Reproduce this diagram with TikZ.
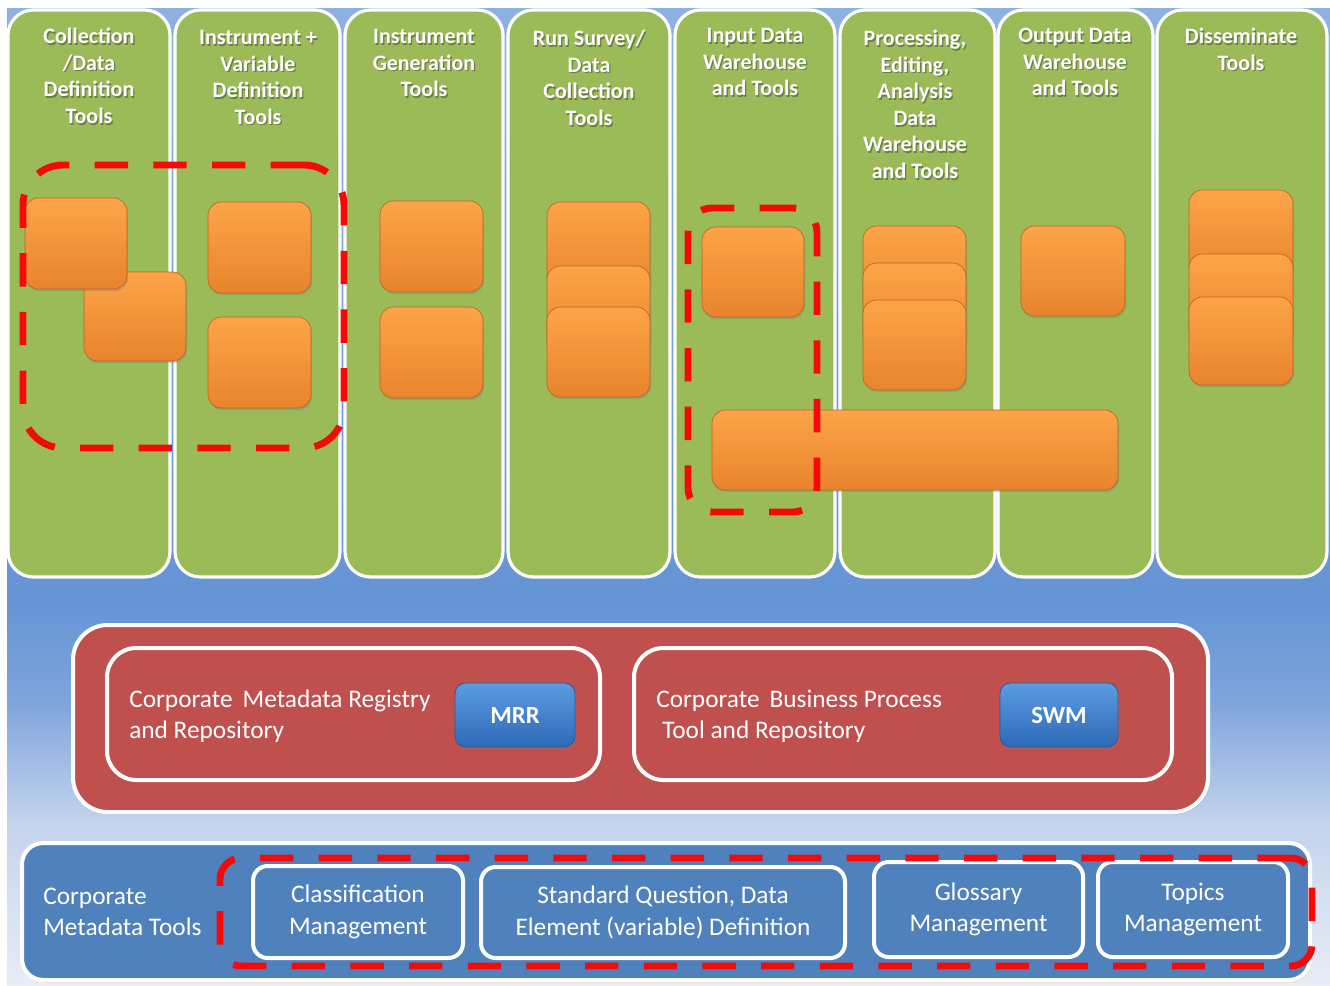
\documentclass[tikz,border=0pt]{standalone}
\usepackage{fontspec}
\setmainfont{Carlito}
\usetikzlibrary{shadows}
\definecolor{colgreen}{HTML}{9BBB59}
\definecolor{midred}{HTML}{C0504D}
\definecolor{botblue}{HTML}{4F81BD}
\definecolor{dashred}{HTML}{F50A0A}
\definecolor{orgtop}{HTML}{FDA448}
\definecolor{orgbot}{HTML}{E8842D}
\definecolor{orgedge}{HTML}{B8661F}
\definecolor{btntop}{HTML}{5C9CE2}
\definecolor{btnbot}{HTML}{2E69B6}
\definecolor{btnedge}{HTML}{2A5A98}
\definecolor{bgA}{HTML}{8DB2E2}
\definecolor{bgB}{HTML}{6594D5}
\definecolor{bgC}{HTML}{7EA4DC}
\definecolor{bgD}{HTML}{C3D3EC}
\definecolor{bgE}{HTML}{E8EDF6}
\newcommand\pbox[7]{\node[#2, minimum width={(#5-#3)*0.75pt}, minimum height={(#6-#4)*0.75pt}] (#1) at ({(#3+#5)/2},{(#4+#6)/2}) {#7};}
\newcommand\colhead[4]{%
  \node[hdsh] (#1s) at ({#2+1.3},{#3+1.7}) {#4};
  \node[hd] (#1) at (#2,#3) {#4};}
\begin{document}
\begin{tikzpicture}[x=0.75pt,y=-0.75pt,
  base/.style={rectangle, inner sep=0pt, outer sep=0pt},
  colbox/.style={base, draw=white, line width=2.4pt, fill=colgreen, rounded corners=19pt,
     drop shadow={opacity=0.25, shadow xshift=0.6pt, shadow yshift=-1.5pt}},
  obox/.style={base, rounded corners=10pt, top color=orgtop, bottom color=orgbot, draw=orgedge, line width=0.5pt,
     drop shadow={opacity=0.35, shadow xshift=0.8pt, shadow yshift=-1.6pt}},
  dashbox/.style={base, draw=dashred, line width=5.2pt, dash pattern=on 25pt off 19pt},
  hd/.style={anchor=north, align=center, text=white, inner sep=0pt, font=\fontsize{16.5}{19.9}\selectfont\bfseries},
  hdsh/.style={hd, text=black!80, text opacity=0.45},
  redbox/.style={base, fill=midred, draw=white, line width=3pt},
  bluebox/.style={base, fill=botblue, draw=white, line width=3pt},
  btn/.style={base, rounded corners=8pt, top color=btntop, bottom color=btnbot, draw=btnedge, line width=0.6pt,
     text=white, font=\fontsize{18.5}{22}\selectfont\bfseries,
     drop shadow={opacity=0.35, shadow xshift=0.8pt, shadow yshift=-1.6pt}},
  bodytxt/.style={inner sep=0pt, text=white, font=\fontsize{19}{23.5}\selectfont}
]
\useasboundingbox (0,0) rectangle (1330,985);
\fill[white] (0,0) rectangle (1330,985);
% background
\shade[top color=bgA, bottom color=bgB] (7,8) rectangle (1330,601);
\shade[top color=bgB, bottom color=bgC] (7,600) rectangle (1330,701);
\shade[top color=bgC, bottom color=bgD] (7,700) rectangle (1330,821);
\shade[top color=bgD, bottom color=bgE] (7,820) rectangle (1330,985);
% columns
\pbox{col1}{colbox}{8}{10}{170}{577}{}
\pbox{col2}{colbox}{175}{10}{340}{577}{}
\pbox{col3}{colbox}{345}{10}{503}{577}{}
\pbox{col4}{colbox}{508}{10}{670}{577}{}
\pbox{col5}{colbox}{675}{10}{835}{577}{}
\pbox{col6}{colbox}{840}{10}{995}{577}{}
\pbox{col7}{colbox}{998}{10}{1153}{577}{}
\pbox{col8}{colbox}{1157}{10}{1327}{577}{}
% headers
\colhead{h1}{89}{28}{Collection\\/Data\\Definition\\Tools}
\colhead{h2}{258}{30}{Instrument +\\Variable\\Definition\\Tools}
\colhead{h3}{424}{29}{Instrument\\Generation\\Tools}
\colhead{h4}{589}{30}{Run Survey/\\Data\\Collection\\Tools}
\colhead{h5}{755}{28}{Input Data\\Warehouse\\and Tools}
\colhead{h6}{915}{30}{Processing,\\Editing,\\Analysis\\Data\\Warehouse\\and Tools}
\colhead{h7}{1075}{28}{Output Data\\Warehouse\\and Tools}
\colhead{h8}{1241}{28}{Disseminate\\Tools}
% orange boxes
\pbox{c1b}{obox}{84}{272}{186}{361}{}
\pbox{c1a}{obox}{25}{198}{127}{289}{}
\pbox{c2a}{obox}{208}{202}{311}{293}{}
\pbox{c2b}{obox}{208}{317}{311}{408}{}
\pbox{c3a}{obox}{380}{201}{483}{292}{}
\pbox{c3b}{obox}{380}{307}{483}{398}{}
\pbox{c4a}{obox}{547}{202}{650}{292}{}
\pbox{c4b}{obox}{547}{266}{650}{356}{}
\pbox{c4c}{obox}{547}{307}{650}{397}{}
\pbox{c5a}{obox}{702}{227}{804}{317}{}
\pbox{c6a}{obox}{863}{226}{966}{316}{}
\pbox{c6b}{obox}{863}{263}{966}{353}{}
\pbox{c6c}{obox}{863}{300}{966}{390}{}
\pbox{c7a}{obox}{1021}{226}{1125}{316}{}
\pbox{c8a}{obox}{1189}{190}{1293}{280}{}
\pbox{c8b}{obox}{1189}{254}{1293}{344}{}
\pbox{c8c}{obox}{1189}{297}{1293}{385}{}
\pbox{long}{obox}{712}{410}{1118}{490}{}
% dashed groups (top)
\pbox{d1}{dashbox, rounded corners=30pt}{23}{165}{344}{448}{}
\pbox{d2}{dashbox, rounded corners=18pt}{688}{208}{817}{512}{}
% middle band
\pbox{mid}{redbox, rounded corners=26pt, drop shadow={opacity=0.3, shadow xshift=0.8pt, shadow yshift=-1.8pt}}{73}{625}{1208}{812}{}
\pbox{mrrbox}{redbox, rounded corners=22pt}{107}{648}{600}{780}{}
\pbox{swmbox}{redbox, rounded corners=22pt}{634}{648}{1172}{780}{}
\node[bodytxt, anchor=west, align=left] (mrrtxt) at (129,716) {Corporate\, Metadata Registry\\and Repository};
\node[bodytxt, anchor=west, align=left] (swmtxt) at (656,716) {Corporate\, Business Process\\\hspace*{4.5pt}Tool and Repository};
\pbox{mrr}{btn}{455}{683}{575}{747}{MRR}
\pbox{swm}{btn}{1000}{683}{1118}{747}{SWM}
% bottom band
\pbox{bot}{bluebox, rounded corners=16pt, drop shadow={opacity=0.25, shadow xshift=0.8pt, shadow yshift=-1.8pt}}{22}{843}{1310}{980}{}
\node[bodytxt, anchor=west, align=left] (cmt) at (43,912) {Corporate\\Metadata Tools};
\pbox{cls}{bluebox, rounded corners=11pt, align=center, bodytxt}{253}{866}{463}{958}{Classification\\Management}
\pbox{sqd}{bluebox, rounded corners=11pt, align=center, bodytxt}{481}{867}{845}{958}{Standard Question, Data\\Element (variable) Definition}
\pbox{glo}{bluebox, rounded corners=11pt, align=center, bodytxt}{874}{862}{1083}{957}{Glossary\\Management}
\pbox{top}{bluebox, rounded corners=11pt, align=center, bodytxt}{1098}{862}{1288}{957}{Topics\\Management}
\pbox{d3}{dashbox, rounded corners=16pt}{220}{858}{1312}{966}{}
\end{tikzpicture}
\end{document}
